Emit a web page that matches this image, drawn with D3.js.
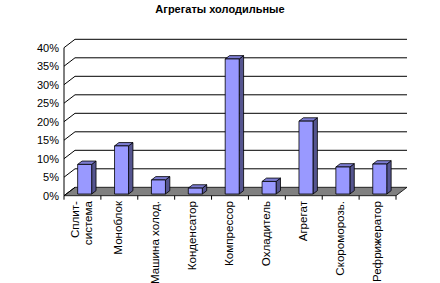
<!DOCTYPE html>
<html>
<head>
<meta charset="utf-8">
<script src="https://cdn.jsdelivr.net/npm/d3@7"></script>
<style>
  body { margin: 0; background: #fff; }
  text { font-family: Arial, "Liberation Sans", sans-serif; }
</style>
</head>
<body>
<svg id="chart"></svg>
<script>
const title = "Агрегаты холодильные"
const categories = ["Сплит-система", "Моноблок", "Машина холод.", "Конденсатор", "Компрессор",
  "Охладитель", "Агрегат", "Скороморозь.", "Рефрижератор"]
const labelLines = [["Сплит-", "система"], ["Моноблок"], ["Машина холод."], ["Конденсатор"], ["Компрессор"],
  ["Охладитель"], ["Агрегат"], ["Скороморозь."], ["Рефрижератор"]]
const values = [0.08, 0.13, 0.038, 0.016, 0.365, 0.034, 0.197, 0.073, 0.081]
const yTicks = [0, 0.05, 0.10, 0.15, 0.20, 0.25, 0.30, 0.35, 0.40]

const width = 440, height = 283
const DX = 11, DY = 8.4          // depth of the floor / back wall
const zFront = 0.2, zBack = 0.6  // bar depth inside the plot

const svg = d3.select("#chart").attr("width", width).attr("height", height)

const x = d3.scaleBand().domain(categories).range([64, 396]).padding(0)
const y = d3.scaleLinear().domain([0, 0.4]).range([195.7, 47.7])

// project a point (x, value) pushed back by depth z (0..1)
const P = (px, v, z) => [px + z * DX, y(v) - z * DY]
const poly = pts => pts.map(p => p.join(",")).join(" ")

svg.append("text")
    .attr("x", 220).attr("y", 13)
    .attr("text-anchor", "middle")
    .attr("font-size", 11).attr("font-weight", "bold")
    .text(title)

// floor
const x0 = x.range()[0], x1 = x.range()[1]
svg.append("polygon")
    .attr("points", poly([P(x0, 0, 0), P(x1, 0, 0), P(x1, 0, 1), P(x0, 0, 1)]))
    .attr("fill", "#808080").attr("stroke", "#000").attr("stroke-width", 0.8)

// gridlines on back wall + side wall
const grid = svg.append("g").attr("stroke", "#000").attr("stroke-width", 1).attr("fill", "none")
yTicks.forEach(t => {
  if (t > 0) {
    grid.append("line")
      .attr("x1", P(x0, t, 1)[0]).attr("y1", P(x0, t, 1)[1])
      .attr("x2", P(x1, t, 1)[0]).attr("y2", P(x1, t, 1)[1])
  }
  grid.append("line")
    .attr("x1", P(x0, t, 0)[0]).attr("y1", P(x0, t, 0)[1])
    .attr("x2", P(x0, t, 1)[0]).attr("y2", P(x0, t, 1)[1])
})

// y axis
svg.append("line")
    .attr("x1", x0).attr("x2", x0).attr("y1", y(0)).attr("y2", y(0.4))
    .attr("stroke", "#000")
svg.append("g").selectAll("text").data(yTicks).join("text")
    .attr("x", 59).attr("y", d => y(d)).attr("dy", "0.35em")
    .attr("text-anchor", "end").attr("font-size", 11)
    .text(d3.format(".0%"))

// bars
const bw = 14
const bars = svg.append("g").attr("stroke", "#000").attr("stroke-width", 0.8).attr("stroke-linejoin", "round")
categories.forEach((c, i) => {
  const v = values[i]
  const l = x(c) + x.bandwidth() / 2 - bw / 2, r = l + bw
  bars.append("polygon")
    .attr("points", poly([P(r, 0, zFront), P(r, 0, zBack), P(r, v, zBack), P(r, v, zFront)]))
    .attr("fill", "#55558f")
  bars.append("polygon")
    .attr("points", poly([P(l, v, zFront), P(r, v, zFront), P(r, v, zBack), P(l, v, zBack)]))
    .attr("fill", "#7c7cd2")
  bars.append("polygon")
    .attr("points", poly([P(l, 0, zFront), P(r, 0, zFront), P(r, v, zFront), P(l, v, zFront)]))
    .attr("fill", "#9999ff")
})

// category ticks
svg.append("g").attr("stroke", "#000").selectAll("line")
    .data(d3.range(categories.length + 1)).join("line")
    .attr("x1", i => x0 + i * x.bandwidth()).attr("x2", i => x0 + i * x.bandwidth())
    .attr("y1", y(0)).attr("y2", y(0) + 4)

// category labels, rotated
categories.forEach((c, i) => {
  const lines = labelLines[i]
  const cx = x(c) + x.bandwidth() / 2 - 1
  const g = svg.append("g").attr("transform", `translate(${cx},201) rotate(-90)`)
  lines.forEach((s, k) => {
    g.append("text")
      .attr("x", 0).attr("y", (k - (lines.length - 1) / 2) * 13.5)
      .attr("dy", "0.35em")
      .attr("text-anchor", "end").attr("font-size", 11.6)
      .text(s)
  })
})
</script>
</body>
</html>
